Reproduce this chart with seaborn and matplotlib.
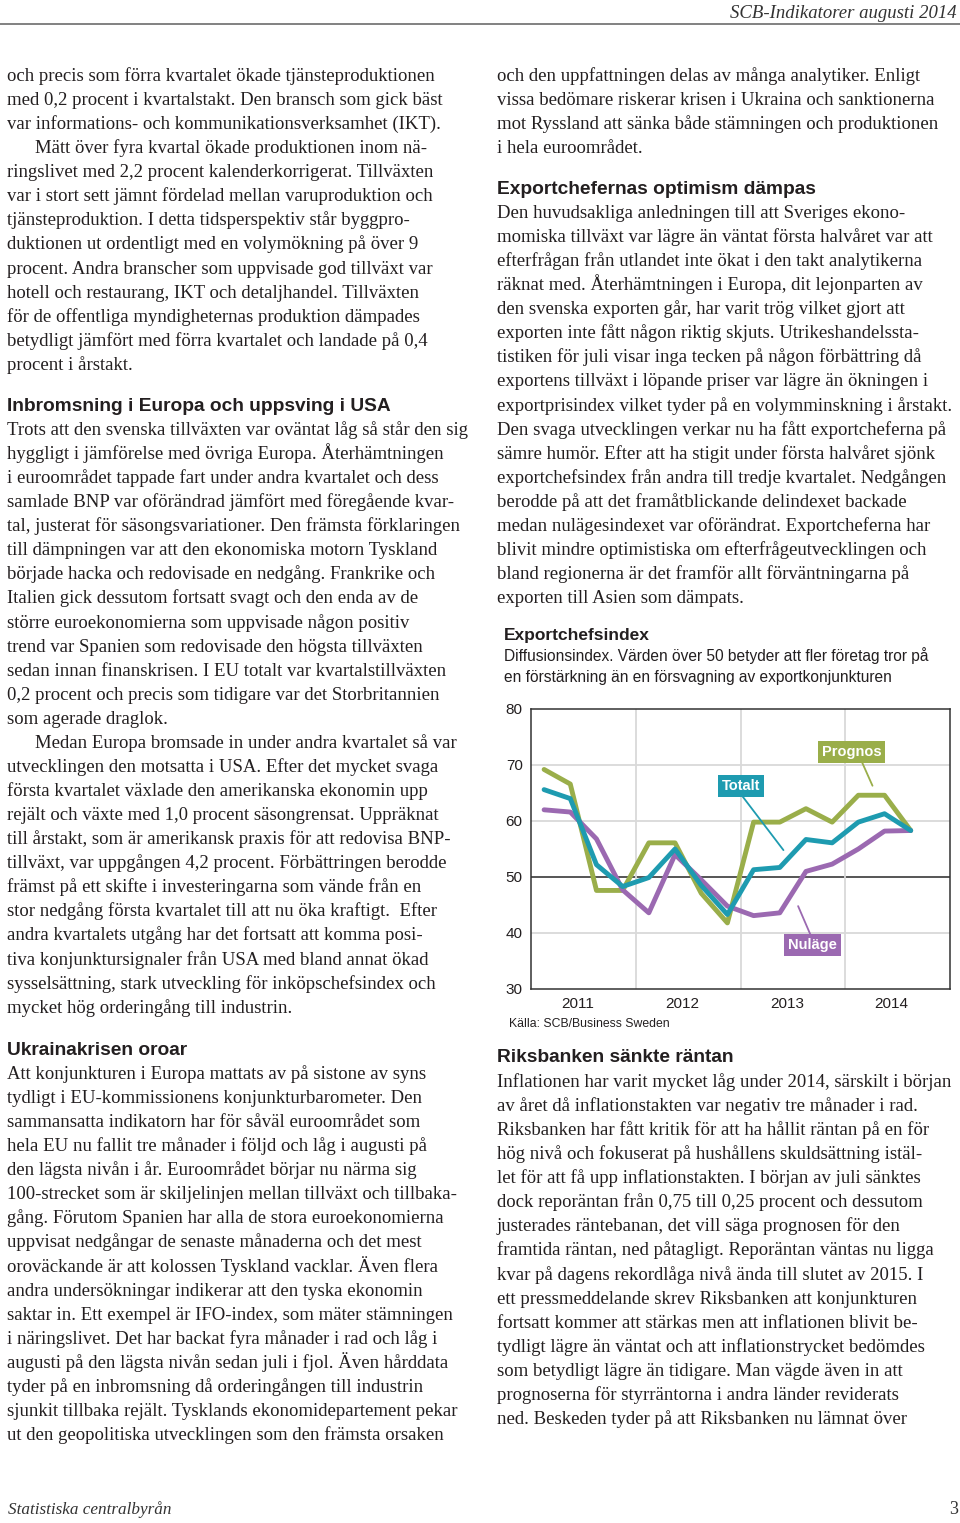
import numpy as np
import pandas as pd
import matplotlib
matplotlib.use("Agg")
import matplotlib.pyplot as plt
import seaborn as sns

# ---------------- data ----------------
quarters = ["2011K1", "2011K2", "2011K3", "2011K4",
            "2012K1", "2012K2", "2012K3", "2012K4",
            "2013K1", "2013K2", "2013K3", "2013K4",
            "2014K1", "2014K2", "2014K3"]
prognos = [69.2, 66.6, 47.6, 47.6, 56.1, 56.1, 47.1, 41.8, 59.8, 59.8, 62.2, 59.8, 64.6, 64.6, 58.3]
totalt  = [65.6, 64.0, 52.2, 48.3, 49.9, 55.0, 48.5, 43.3, 51.3, 51.7, 56.7, 56.1, 59.8, 61.3, 58.3]
nulage  = [62.0, 61.6, 56.8, 47.7, 43.6, 54.0, 49.5, 44.8, 43.1, 43.6, 51.0, 52.3, 55.0, 58.2, 58.3]
year_labels = ["2011", "2012", "2013", "2014"]
y_ticks = [30, 40, 50, 60, 70, 80]

chart_title = "Exportchefsindex"
chart_sub = ["Diffusionsindex. Värden över 50 betyder att fler företag tror på",
             "en förstärkning än en försvagning av exportkonjunkturen"]
chart_source = "Källa: SCB/Business Sweden"

header_text = "SCB-Indikatorer augusti 2014"
footer_left = "Statistiska centralbyrån"
footer_right = "3"

left_p1 = [
    "och precis som förra kvartalet ökade tjänsteproduktionen",
    "med 0,2 procent i kvartalstakt. Den bransch som gick bäst",
    "var informations- och kommunikationsverksamhet (IKT).",
    "\tMätt över fyra kvartal ökade produktionen inom nä-",
    "ringslivet med 2,2 procent kalenderkorrigerat. Tillväxten",
    "var i stort sett jämnt fördelad mellan varuproduktion och",
    "tjänsteproduktion. I detta tidsperspektiv står byggpro-",
    "duktionen ut ordentligt med en volymökning på över 9",
    "procent. Andra branscher som uppvisade god tillväxt var",
    "hotell och restaurang, IKT och detaljhandel. Tillväxten",
    "för de offentliga myndigheternas produktion dämpades",
    "betydligt jämfört med förra kvartalet och landade på 0,4",
    "procent i årstakt.",
]
left_h1 = "Inbromsning i Europa och uppsving i USA"
left_p2 = [
    "Trots att den svenska tillväxten var oväntat låg så står den sig",
    "hyggligt i jämförelse med övriga Europa. Återhämtningen",
    "i euroområdet tappade fart under andra kvartalet och dess",
    "samlade BNP var oförändrad jämfört med föregående kvar-",
    "tal, justerat för säsongsvariationer. Den främsta förklaringen",
    "till dämpningen var att den ekonomiska motorn Tyskland",
    "började hacka och redovisade en nedgång. Frankrike och",
    "Italien gick dessutom fortsatt svagt och den enda av de",
    "större euroekonomierna som uppvisade någon positiv",
    "trend var Spanien som redovisade den högsta tillväxten",
    "sedan innan finanskrisen. I EU totalt var kvartalstillväxten",
    "0,2 procent och precis som tidigare var det Storbritannien",
    "som agerade draglok.",
    "\tMedan Europa bromsade in under andra kvartalet så var",
    "utvecklingen den motsatta i USA. Efter det mycket svaga",
    "första kvartalet växlade den amerikanska ekonomin upp",
    "rejält och växte med 1,0 procent säsongrensat. Uppräknat",
    "till årstakt, som är amerikansk praxis för att redovisa BNP-",
    "tillväxt, var uppgången 4,2 procent. Förbättringen berodde",
    "främst på ett skifte i investeringarna som vände från en",
    "stor nedgång första kvartalet till att nu öka kraftigt.  Efter",
    "andra kvartalets utgång har det fortsatt att komma posi-",
    "tiva konjunktursignaler från USA med bland annat ökad",
    "sysselsättning, stark utveckling för inköpschefsindex och",
    "mycket hög orderingång till industrin.",
]
left_h2 = "Ukrainakrisen oroar"
left_p3 = [
    "Att konjunkturen i Europa mattats av på sistone av syns",
    "tydligt i EU-kommissionens konjunkturbarometer. Den",
    "sammansatta indikatorn har för såväl euroområdet som",
    "hela EU nu fallit tre månader i följd och låg i augusti på",
    "den lägsta nivån i år. Euroområdet börjar nu närma sig",
    "100-strecket som är skiljelinjen mellan tillväxt och tillbaka-",
    "gång. Förutom Spanien har alla de stora euroekonomierna",
    "uppvisat nedgångar de senaste månaderna och det mest",
    "oroväckande är att kolossen Tyskland vacklar. Även flera",
    "andra undersökningar indikerar att den tyska ekonomin",
    "saktar in. Ett exempel är IFO-index, som mäter stämningen",
    "i näringslivet. Det har backat fyra månader i rad och låg i",
    "augusti på den lägsta nivån sedan juli i fjol. Även hårddata",
    "tyder på en inbromsning då orderingången till industrin",
    "sjunkit tillbaka rejält. Tysklands ekonomidepartement pekar",
    "ut den geopolitiska utvecklingen som den främsta orsaken",
]
right_p1 = [
    "och den uppfattningen delas av många analytiker. Enligt",
    "vissa bedömare riskerar krisen i Ukraina och sanktionerna",
    "mot Ryssland att sänka både stämningen och produktionen",
    "i hela euroområdet.",
]
right_h1 = "Exportchefernas optimism dämpas"
right_p2 = [
    "Den huvudsakliga anledningen till att Sveriges ekono-",
    "momiska tillväxt var lägre än väntat första halvåret var att",
    "efterfrågan från utlandet inte ökat i den takt analytikerna",
    "räknat med. Återhämtningen i Europa, dit lejonparten av",
    "den svenska exporten går, har varit trög vilket gjort att",
    "exporten inte fått någon riktig skjuts. Utrikeshandelssta-",
    "tistiken för juli visar inga tecken på någon förbättring då",
    "exportens tillväxt i löpande priser var lägre än ökningen i",
    "exportprisindex vilket tyder på en volymminskning i årstakt.",
    "Den svaga utvecklingen verkar nu ha fått exportcheferna på",
    "sämre humör. Efter att ha stigit under första halvåret sjönk",
    "exportchefsindex från andra till tredje kvartalet. Nedgången",
    "berodde på att det framåtblickande delindexet backade",
    "medan nulägesindexet var oförändrat. Exportcheferna har",
    "blivit mindre optimistiska om efterfrågeutvecklingen och",
    "bland regionerna är det framför allt förväntningarna på",
    "exporten till Asien som dämpats.",
]
right_h2 = "Riksbanken sänkte räntan"
right_p3 = [
    "Inflationen har varit mycket låg under 2014, särskilt i början",
    "av året då inflationstakten var negativ tre månader i rad.",
    "Riksbanken har fått kritik för att ha hållit räntan på en för",
    "hög nivå och fokuserat på hushållens skuldsättning istäl-",
    "let för att få upp inflationstakten. I början av juli sänktes",
    "dock reporäntan från 0,75 till 0,25 procent och dessutom",
    "justerades räntebanan, det vill säga prognosen för den",
    "framtida räntan, ned påtagligt. Reporäntan väntas nu ligga",
    "kvar på dagens rekordlåga nivå ända till slutet av 2015. I",
    "ett pressmeddelande skrev Riksbanken att konjunkturen",
    "fortsatt kommer att stärkas men att inflationen blivit be-",
    "tydligt lägre än väntat och att inflationstrycket bedömdes",
    "som betydligt lägre än tidigare. Man vägde även in att",
    "prognoserna för styrräntorna i andra länder reviderats",
    "ned. Beskeden tyder på att Riksbanken nu lämnat över",
]

# ---------------- figure ----------------
sns.set_theme(style="white")
plt.rcParams["font.family"] = ["Liberation Sans", "DejaVu Sans"]

W, H = 960, 1523
fig = plt.figure(figsize=(W / 100, H / 100), dpi=100)
fig.patch.set_facecolor("white")

TXT = "#231f20"
BODY_FONT = ["Liberation Serif", "DejaVu Serif"]
HEAD_FONT = ["Liberation Sans", "DejaVu Sans"]

def fy(py):
    return 1 - py / H

def fx(px):
    return px / W

# choose body font size so that the longest line fits inside the column
renderer = fig.canvas.get_renderer()
COLW = 463
INDENT = 28
all_blocks = [left_p1, left_p2, left_p3, right_p1, right_p2, right_p3]
ratios = []
for blk in all_blocks:
    for ln in blk:
        s = ln.lstrip("\t")
        t = fig.text(0, 0, s, fontsize=10, family=BODY_FONT)
        w = t.get_window_extent(renderer).width
        t.remove()
        target = COLW - (INDENT if ln.startswith("\t") else 0)
        ratios.append(target / w)
BODY_SIZE = 10 * float(min(ratios))

STEP = 24.07

def draw_block(lines, x0, y0):
    for i, ln in enumerate(lines):
        ind = INDENT if ln.startswith("\t") else 0
        fig.text(fx(x0 + ind), fy(y0 + i * STEP + 5), ln.lstrip("\t"),
                 fontsize=BODY_SIZE, family=BODY_FONT, color=TXT,
                 ha="left", va="baseline")

def draw_head(s, x0, y0):
    fig.text(fx(x0), fy(y0 + 6), s, fontsize=13.8, family=HEAD_FONT,
             fontweight="bold", color=TXT, ha="left", va="baseline")

LX, RX = 7, 497
draw_block(left_p1, LX, 76)
draw_head(left_h1, LX, 405)
draw_block(left_p2, LX, 430)
draw_head(left_h2, LX, 1049)
draw_block(left_p3, LX, 1074)
draw_block(right_p1, RX, 76)
draw_head(right_h1, RX, 188)
draw_block(right_p2, RX, 213)
draw_head(right_h2, RX, 1056)
draw_block(right_p3, RX, 1082)

# header / footer
fig.text(fx(957), fy(18), header_text, fontsize=13.5, family=BODY_FONT,
         style="italic", color="#333333", ha="right", va="baseline")
fig.add_artist(plt.Line2D([0, 1], [fy(23.5), fy(23.5)], color="#777777", lw=1.3))
fig.text(fx(8), fy(1514), footer_left, fontsize=12.3, family=BODY_FONT,
         style="italic", color="#333333", ha="left", va="baseline")
fig.text(fx(958), fy(1514), footer_right, fontsize=13, family=BODY_FONT,
         color="#333333", ha="right", va="baseline")

# ---------------- chart ----------------
GREEN = "#9aae4a"
TEAL = "#1e9bb0"
PURPLE = "#9b69b1"

fig.text(fx(504), fy(640), chart_title, fontsize=12.5, fontweight="bold",
         color=TXT, ha="left", va="baseline")
fig.text(fx(504), fy(661), chart_sub[0], fontsize=11.2, color=TXT, ha="left", va="baseline")
fig.text(fx(504), fy(682), chart_sub[1], fontsize=11.2, color=TXT, ha="left", va="baseline")
fig.text(fx(509), fy(1027), chart_source, fontsize=8.8, color=TXT, ha="left", va="baseline")

ax_l, ax_r, ax_t, ax_b = 531, 950, 709, 989
ax = fig.add_axes([fx(ax_l), fy(ax_b), (ax_r - ax_l) / W, (ax_b - ax_t) / H])

idx = np.arange(len(quarters))
df = pd.concat([
    pd.DataFrame({"q": idx, "kvartal": quarters, "värde": prognos, "serie": "Prognos"}),
    pd.DataFrame({"q": idx, "kvartal": quarters, "värde": nulage, "serie": "Nuläge"}),
    pd.DataFrame({"q": idx, "kvartal": quarters, "värde": totalt, "serie": "Totalt"}),
])
palette = {"Prognos": GREEN, "Nuläge": PURPLE, "Totalt": TEAL}

# grid
for yv in y_ticks[1:-1]:
    ax.axhline(yv, color="#555555" if yv == 50 else "#d9d9d9",
               lw=1.4 if yv == 50 else 1.3, zorder=1)
for b in [3.5, 7.5, 11.5]:
    ax.axvline(b, color="#d9d9d9", lw=1.3, zorder=1)

sns.lineplot(data=df, x="q", y="värde", hue="serie", palette=palette,
             hue_order=["Prognos", "Nuläge", "Totalt"], legend=False,
             lw=3.5, ax=ax, zorder=3, sort=False)
for ln in ax.get_lines():
    ln.set_solid_joinstyle("round")
    ln.set_solid_capstyle("round")

ax.set_xlim(-0.5, 15.5)
ax.set_ylim(30, 80)
ax.set_xticks([1.27, 5.27, 9.27, 13.27])
ax.set_xticklabels(year_labels)
ax.set_yticks(y_ticks)
ax.set_yticklabels([str(v) for v in y_ticks])
ax.tick_params(axis="both", length=0, labelsize=11, colors=TXT)
ax.tick_params(axis="x", pad=6)
ax.tick_params(axis="y", pad=6)
ax.set_xlabel("")
ax.set_ylabel("")
for s in ax.spines.values():
    s.set_color("#333333")
    s.set_linewidth(1.1)

# series labels with connectors
labels = [
    ("Prognos", GREEN, (11.74, 72.3), (12.14, 70.5), (12.54, 66.3)),
    ("Totalt", TEAL, (7.52, 66.2), (7.56, 64.5), (9.14, 54.8)),
    ("Nuläge", PURPLE, (10.26, 37.9), (9.70, 44.8), (10.18, 39.6)),
]
for name, col, pos, c0, c1 in labels:
    ax.plot([c0[0], c1[0]], [c0[1], c1[1]], color=col, lw=1.3, zorder=4)
    ax.text(pos[0], pos[1], name, color="white", fontsize=10.5, fontweight="bold",
            ha="center", va="center", zorder=5,
            bbox=dict(boxstyle="square,pad=0.28", fc=col, ec="none"))

fig.savefig("out.png", dpi=100, facecolor="white")
